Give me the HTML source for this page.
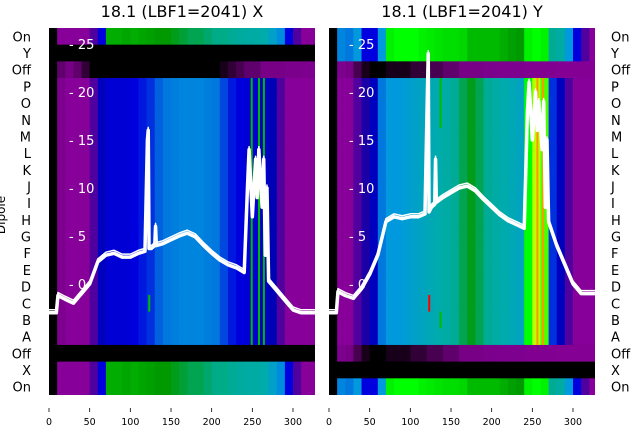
<!DOCTYPE html>
<html><head><meta charset="utf-8">
<style>
body{margin:0;background:#fff;width:640px;height:440px;overflow:hidden;font-family:"Liberation Sans","DejaVu Sans",sans-serif;}
svg text{font-family:"DejaVu Sans","Liberation Sans",sans-serif;}
</style></head>
<body>
<svg id="chart" width="640" height="440" viewBox="0 0 640 440">
</svg>
<script>
// ---------- data ----------
const rowLabels = ["On","Y","Off","P","O","N","M","L","K","J","I","H","G","F","E","D","C","B","A","Off","X","On"];
const binX = [0,10,20,30,40,50,60,70,80,90,100,110,120,130,140,150,160,170,180,190,200,210,220,230,240,250,260,270,280,290,300,310,320];
// intensity profiles (0..1, nipy_spectral scale) per row type
const xMain  = [0,0.07,0.1,0.1,0.1,0.12,0.17,0.19,0.19,0.19,0.2,0.21,0.22,0.24,0.25,0.26,0.27,0.27,0.27,0.26,0.25,0.23,0.21,0.2,0.19,0.19,0.18,0.16,0.12,0.1,0.1,0.1,0.1];
const xOn    = [0,0.1,0.1,0.1,0.1,0.12,0.2,0.48,0.48,0.47,0.48,0.47,0.46,0.45,0.45,0.44,0.43,0.42,0.42,0.41,0.4,0.4,0.38,0.37,0.36,0.36,0.35,0.32,0.28,0.2,0.12,0.1,0.1];
const xOff   = [0,0.04,0.05,0.04,0.02,0,0,0,0,0,0,0,0,0,0,0,0,0,0,0,0,0.01,0.02,0.03,0.04,0.04,0.05,0.05,0.05,0.06,0.06,0.07,0.07];
const xBlack = [0,0,0,0,0,0,0,0,0,0,0,0,0,0,0,0,0,0,0,0,0,0,0,0,0,0,0,0,0,0,0,0,0];
const yMain  = [0,0.1,0.1,0.12,0.14,0.17,0.25,0.3,0.3,0.31,0.32,0.33,0.34,0.35,0.36,0.38,0.42,0.44,0.42,0.38,0.36,0.35,0.34,0.33,0.6,0.65,0.62,0.22,0.17,0.12,0.1,0.1,0.1];
const yOn    = [0,0.27,0.25,0.3,0.2,0.2,0.3,0.58,0.6,0.6,0.6,0.58,0.57,0.56,0.55,0.55,0.54,0.5,0.5,0.5,0.5,0.48,0.46,0.45,0.58,0.6,0.58,0.38,0.36,0.3,0.2,0.12,0.1];
const yOff   = [0,0.07,0.05,0.03,0.01,0,0,0.01,0.01,0.01,0.02,0.02,0.03,0.03,0.04,0.04,0.05,0.05,0.05,0.06,0.06,0.07,0.07,0.07,0.08,0.08,0.08,0.08,0.09,0.09,0.09,0.09,0.09];
const xRowKinds = ["on","black","off","main","main","main","main","main","main","main","main","main","main","main","main","main","main","main","main","black","on","on"];
const yRowKinds = ["on","on","off","main","main","main","main","main","main","main","main","main","main","main","main","main","main","main","main","off","black","on"];
// traces
const traceX = [0,9,11,20,30,40,50,60,70,80,90,100,110,118,121,122,123,126,130,131,132,140,150,160,170,180,190,200,210,220,230,240,244,246,250,254,256,258,262,264,266,268,270,280,290,300,310,320,327];
const traceXVals = [-3,-3,-1.2,-1.6,-2,-1,0,2.3,3,3.2,2.8,2.8,3.2,3.4,15,16,3.7,3.7,4,6,4,4.2,4.6,5,5.3,4.9,4,3.2,2.5,2,1.7,1.2,10,14,7,13,9,14,8,13,3,10,0.3,-0.7,-1.7,-2.7,-3,-3,-3];
const traceYVals = [-3,-3,-0.8,-1.2,-1.5,-0.5,1,3,6.5,7,6.8,7,7,7.3,20,24,7.5,8,8.3,13,8.5,9,9.5,10,10.2,9.7,8.8,8,7.2,6.6,6.2,5.8,18,21,15,20,16,19,14,19,8,15,6.5,4,2,0,-1,-1,-1];
const xTicks = [0,50,100,150,200,250,300];
const yTicks = [0,5,10,15,20,25];
const spikesX = [{x:122,v:0.5,r0:16,r1:17},{x:248,v:0.5,r0:3,r1:19},{x:257,v:0.5,r0:3,r1:19},{x:263,v:0.5,r0:3,r1:19}];
const spikesY = [{x:122,v:0.85,r0:16,r1:17},{x:136,v:0.5,r0:3,r1:6},{x:136,v:0.5,r0:17,r1:18},{x:255,v:0.8,r0:3,r1:19},{x:262,v:0.8,r0:3,r1:19}];

// ---------- colormap (nipy_spectral) ----------
const cmap=[[0,0,0,0],[.05,.47,0,.53],[.1,.53,0,.6],[.15,0,0,.67],[.2,0,0,.87],[.25,0,.47,.87],[.3,0,.6,.87],[.35,0,.67,.67],[.4,0,.67,.53],[.45,0,.6,0],[.5,0,.73,0],[.55,0,.87,0],[.6,0,1,0],[.65,.73,1,0],[.7,.93,.93,0],[.75,1,.8,0],[.8,1,.6,0],[.85,1,0,0],[.9,.87,0,0],[.95,.8,.8,.8],[1,.8,.8,.8]];
function color(v){v=Math.max(0,Math.min(1,v));for(let i=1;i<cmap.length;i++){if(v<=cmap[i][0]){const a=cmap[i-1],b=cmap[i],t=(v-a[0])/(b[0]-a[0]);return `rgb(${Math.round(255*(a[1]+t*(b[1]-a[1])))},${Math.round(255*(a[2]+t*(b[2]-a[2])))},${Math.round(255*(a[3]+t*(b[3]-a[3])))})`;}}return "#ccc";}

const NS="http://www.w3.org/2000/svg";
const svg=document.getElementById('chart');
function el(tag,attrs,parent){const e=document.createElementNS(NS,tag);for(const k in attrs)e.setAttribute(k,attrs[k]);(parent||svg).appendChild(e);return e;}

const top0=28,bot0=395,nRows=rowLabels.length,rowH=(bot0-top0)/nRows;
function drawPanel(px0,title,kinds,profiles,spikes,tx,tv,name){
  const sx=v=>px0+v*(244/300);
  const sy=v=>284-v*9.6;
  const g=el('g',{});
  
  
  const clipId='clip-'+name;
  const cp=el('clipPath',{id:clipId},g);el('rect',{x:px0,y:top0,width:266,height:bot0-top0},cp);
  const hm=el('g',{'clip-path':`url(#${clipId})`},g);
  for(let r=0;r<nRows;r++){
    const prof=profiles[kinds[r]];
    for(let c=0;c<binX.length;c++){
      const x0=sx(binX[c]),x1=sx(binX[c]+10);
      const cell=el('rect',{x:x0,y:top0+r*rowH,width:x1-x0+0.6,height:rowH+0.5,fill:color(prof[c])},hm);
      
      
    }
  }
  spikes.forEach(s=>{
    const sp=el('rect',{x:sx(s.x),y:top0+s.r0*rowH,width:2,height:(s.r1-s.r0)*rowH,fill:color(s.v)},hm);
    
    
  });
  yTicks.forEach(t=>{
    const lb=el('text',{x:px0+20,y:sy(t)+5,fill:'#fff','font-size':13},hm);lb.textContent='- '+t;
    
    
  });
  const pts=tx.map((x,i)=>sx(x)+','+sy(tv[i])).join(' ');
  const pts2=tx.map((x,i)=>sx(x)+','+(sy(tv[i])-3)).join(' ');
  const l2=el('polyline',{points:pts2,fill:'none',stroke:'#fff','stroke-width':1.5,'stroke-linejoin':'round'},hm);
  
  
  const l=el('polyline',{points:pts,fill:'none',stroke:'#fff','stroke-width':3.5,'stroke-linejoin':'round'},hm);
  
  
  const tt=el('text',{x:px0+133,y:17,'text-anchor':'middle','font-size':16,fill:'#000'},g);tt.textContent=title;
  
  
  xTicks.forEach(t=>{
    const tk=el('line',{x1:sx(t),x2:sx(t),y1:408,y2:412,stroke:'#000','stroke-width':0.8},g);
    
    
    const tl=el('text',{x:sx(t),y:425,'text-anchor':'middle','font-size':9.5,fill:'#000'},g);tl.textContent=t;
    
    
  });
}
drawPanel(49,"18.1 (LBF1=2041) X",xRowKinds,{main:xMain,on:xOn,off:xOff,black:xBlack},spikesX,traceX,traceXVals,'x');
drawPanel(329,"18.1 (LBF1=2041) Y",yRowKinds,{main:yMain,on:yOn,off:yOff,black:xBlack},spikesY,traceX,traceYVals,'y');
rowLabels.forEach((lab,i)=>{
  const yc=top0+(i+0.5)*rowH+5;
  const a=el('text',{x:31,y:yc,'text-anchor':'end','font-size':13,fill:'#000'});a.textContent=lab;
  
  
  const b=el('text',{x:611,y:yc,'font-size':13,fill:'#000'});b.textContent=lab;
  
  
});
const yl=el('text',{x:0,y:0,transform:'translate(5,215) rotate(-90)','text-anchor':'middle','font-size':12,fill:'#000'});yl.textContent='Dipole';


</script>
</body></html>
